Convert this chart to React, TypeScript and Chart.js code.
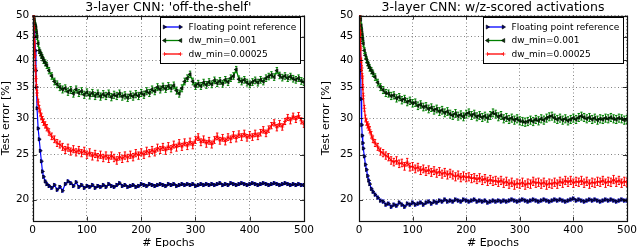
import React, { useEffect, useRef } from "react";
import { Chart, registerables } from "chart.js";

Chart.register(...registerables);

// ---- data ----
const EPOCHS = [
  1, 2, 3, 4, 5, 6, 7, 8, 10, 12, 14, 16, 18, 20, 23, 26, 30,
  35, 40, 45, 50, 55, 60, 65, 70, 75, 80,
  85, 90, 95, 100, 105, 110, 115, 120, 125, 130,
  135, 140, 145, 150, 155, 160, 165, 170, 175, 180,
  185, 190, 195, 200, 205, 210, 215, 220, 225, 230,
  235, 240, 245, 250, 255, 260, 265, 270, 275, 280,
  285, 290, 295, 300, 305, 310, 315, 320, 325, 330,
  335, 340, 345, 350, 355, 360, 365, 370, 375, 380,
  385, 390, 395, 400, 405, 410, 415, 420, 425, 430,
  435, 440, 445, 450, 455, 460, 465, 470, 475, 480,
  485, 490, 495, 500,
];

const LEFT_FLOAT = [
  50, 48, 46.5, 45, 42, 38, 35, 31.5, 28.5, 27, 25.5, 24.2, 23, 22.4, 21.9, 21.6, 21.4,
  21.2, 21.5, 21.0, 21.3, 20.9, 21.6, 21.9, 21.7, 21.4, 21.8,
  21.3, 21.5, 21.2, 21.4, 21.3, 21.5, 21.2, 21.4, 21.3, 21.5,
  21.3, 21.6, 21.4, 21.3, 21.5, 21.7, 21.4, 21.5, 21.3, 21.4,
  21.5, 21.3, 21.4, 21.6, 21.5, 21.4, 21.6, 21.5, 21.4, 21.5,
  21.6, 21.5, 21.4, 21.6, 21.5, 21.6, 21.4, 21.5, 21.6, 21.5,
  21.6, 21.5, 21.6, 21.4, 21.5, 21.6, 21.5, 21.6, 21.5, 21.6,
  21.5, 21.6, 21.7, 21.5, 21.6, 21.5, 21.7, 21.6, 21.5, 21.6,
  21.7, 21.6, 21.5, 21.6, 21.7, 21.6, 21.5, 21.6, 21.7, 21.6,
  21.5, 21.6, 21.7, 21.6, 21.5, 21.6, 21.7, 21.6, 21.5, 21.6,
  21.5, 21.6, 21.5, 21.5,
];
const LEFT_DW1 = [
  50, 50, 49, 48, 47.5, 47, 46, 45, 43.5, 42, 41.5, 41, 40.5, 40, 39.5, 39, 38,
  37, 36, 35.5, 35, 34.6, 34.8, 34.2, 34.5, 33.9, 34.6,
  34.0, 34.3, 33.7, 34.1, 33.6, 34.0, 33.5, 33.9, 33.4, 33.8,
  33.5, 33.9, 33.3, 33.7, 33.5, 33.9, 33.4, 33.6, 33.2, 33.7,
  33.4, 33.8, 33.5, 34.0, 33.7, 34.3, 34.0, 34.6, 34.3, 35.0,
  34.6, 35.1, 34.7, 35.2, 34.8, 35.3, 34.4, 33.9, 34.8, 36.0,
  36.6, 37.3, 36.0, 35.2, 35.6, 35.2, 35.8, 35.4, 35.9, 35.5,
  36.2, 35.7, 36.1, 35.6, 36.3, 35.9, 36.6, 37.0, 38.2, 36.4,
  36.0, 36.3, 35.8, 35.5, 35.9, 36.2, 35.8, 36.3, 36.0, 36.6,
  36.9, 37.2, 36.8, 38.0, 37.1, 36.7, 37.0, 36.6, 36.9, 36.5,
  36.3, 36.6, 36.1, 35.9,
];
const LEFT_DW2 = [
  50, 47, 44, 41, 38.5, 36.5, 35, 34, 32.5, 31.5, 30.8, 30.2, 29.8, 29.4, 29, 28.6, 28,
  27.4, 27, 26.5, 26.3, 26.0, 25.6, 25.9, 25.4, 25.7, 25.3,
  25.6, 25.2, 25.5, 25.0, 25.3, 24.8, 25.1, 24.7, 25.0, 24.6,
  24.9, 24.5, 24.9, 24.6, 24.3, 24.8, 24.5, 24.9, 24.6, 25.0,
  24.7, 25.2, 24.9, 25.3, 25.0, 25.5, 25.2, 25.6, 25.3, 25.9,
  25.6, 26.0, 25.5, 26.1, 25.7, 26.3, 25.9, 26.5, 26.0, 26.6,
  26.1, 26.7, 26.2, 26.9, 27.3, 26.6, 27.0, 26.4, 26.8, 26.3,
  26.9, 27.4, 26.8, 27.2, 26.7, 27.3, 27.0, 27.6, 27.1, 27.7,
  27.3, 27.8, 27.2, 27.6, 27.3, 27.8, 27.4, 27.9, 28.3, 27.8,
  28.4, 28.9, 29.3, 28.6, 29.2, 28.7, 29.5, 30.1, 29.6, 30.3,
  29.8, 30.4, 29.6, 29.1,
];

const RIGHT_FLOAT = [
  50, 44, 38, 33, 29, 27.5, 26.5, 25.8, 24.8, 23.8, 23.2, 22.5, 22.0, 21.6, 21.1, 20.8, 20.5,
  20.2, 19.9, 19.8, 19.5, 19.6, 19.3, 19.5, 19.4, 19.7, 19.5,
  19.3, 19.6, 19.5, 19.7, 19.5, 19.6, 19.7, 19.5, 19.7, 19.8,
  19.6, 19.8, 19.7, 19.9, 19.8, 20.0, 19.8, 19.9, 19.8, 20.0,
  19.9, 19.8, 20.0, 19.9, 19.8, 19.9, 20.0, 19.8, 19.9, 19.8,
  19.9, 19.7, 19.8, 19.9, 19.8, 19.9, 19.8, 19.9, 19.8, 19.9,
  20.0, 19.9, 19.8, 19.9, 20.0, 19.9, 19.8, 19.9, 20.0, 19.9,
  19.8, 19.9, 20.0, 19.9, 19.8, 19.9, 20.0, 19.9, 20.0, 19.9,
  19.8, 19.9, 20.0, 20.1, 19.9, 20.0, 19.9, 19.8, 19.9, 20.0,
  19.9, 20.0, 19.9, 19.8, 19.9, 20.0, 19.9, 20.0, 19.9, 19.8,
  19.9, 20.0, 19.9, 19.9,
];
const RIGHT_DW1 = [
  50, 50, 49, 47.5, 46.5, 45.5, 44.5, 43.5, 42, 41, 40.2, 39.5, 39, 38.5, 38, 37.5, 36.8,
  35.8, 35.0, 34.5, 34.0, 33.9, 33.5, 33.6, 33.1, 33.3, 32.8,
  33.0, 32.5, 32.7, 32.3, 32.4, 31.9, 32.1, 31.7, 31.8, 31.4,
  31.6, 31.2, 31.4, 31.0, 31.2, 30.8, 31.0, 30.6, 30.4, 30.7,
  30.3, 30.5, 30.2, 30.6, 30.8, 30.4, 30.6, 30.2, 30.4, 30.1,
  30.3, 30.0, 30.4, 30.8, 30.6, 30.2, 30.4, 29.9, 30.1, 29.8,
  30.0, 29.7, 29.9, 29.6, 29.5, 29.4, 29.5, 29.7, 29.5, 29.8,
  29.6, 29.9, 29.7, 30.0, 30.2, 30.3, 30.0, 29.8, 30.0, 29.7,
  29.9, 29.6, 29.8, 30.0, 29.8, 30.1, 30.3, 30.1, 29.9, 30.1,
  29.8, 30.0, 29.7, 29.9, 29.8, 30.0, 29.9, 30.1, 29.9, 29.8,
  30.0, 29.9, 29.7, 29.8,
];
const RIGHT_DW2 = [
  50, 46, 42.5, 40, 38.5, 37, 35, 33.5, 31.5, 30, 29.4, 29, 28.7, 28.3, 27.6, 27.0, 26.5,
  26.0, 25.4, 25.2, 24.9, 24.7, 24.3, 24.1, 24.3, 23.9, 24.0,
  23.6, 24.1, 23.5, 23.6, 23.3, 23.5, 23.1, 23.3, 23.0, 23.2,
  22.9, 23.1, 22.8, 23.0, 22.7, 22.9, 22.6, 22.8, 22.6, 22.4,
  22.6, 22.3, 22.5, 22.3, 22.4, 22.2, 22.3, 22.1, 22.3, 22.0,
  22.2, 21.9, 22.1, 21.9, 22.0, 21.8, 22.0, 21.7, 21.9, 21.6,
  21.8, 21.5, 21.7, 21.6, 21.8, 21.5, 21.7, 21.6, 21.9, 21.7,
  21.8, 21.6, 21.8, 21.5, 21.7, 21.6, 21.8, 21.6, 21.9, 21.7,
  22.0, 21.8, 22.0, 21.7, 21.9, 21.8, 22.0, 21.7, 21.9, 21.6,
  21.8, 21.7, 21.9, 21.8, 22.0, 21.7, 21.9, 21.8, 22.1, 21.8,
  22.0, 21.7, 21.9, 21.8,
];

const SERIES_LABELS = ["Floating point reference", "dw_min=0.001", "dw_min=0.00025"];
const ERRS = [0.15, 0.6, 0.45];
const Y_TICKS = [20, 25, 30, 35, 40, 45, 50];
const X_TICKS = [0, 100, 200, 300, 400, 500];
const TITLES = ["3-layer CNN: 'off-the-shelf'", "3-layer CNN: w/z-scored activations"];
const Y_TITLE = "Test error [%]";
const X_TITLE = "# Epochs";

// ---- styles ----
const FONT = "DejaVu Sans";
const COLORS = ["#0000ff", "#008000", "#ff0000"];
const MARK_FILL = ["#000080", "#004000", "#ff0000"];
const MARK_EDGE = ["#000000", "#000000", "#ff0000"];
const MARK_STYLE = ["triangle", "triangle", "cross"];
const MARK_ROT = [90, -90, 0];

function drawMarker(ctx: CanvasRenderingContext2D, i: number, x: number, y: number, r: number) {
  ctx.save();
  ctx.fillStyle = MARK_FILL[i];
  ctx.strokeStyle = MARK_EDGE[i];
  ctx.lineWidth = 0.7;
  ctx.beginPath();
  if (i === 0) {
    ctx.moveTo(x + r, y);
    ctx.lineTo(x - r * 0.6, y - r);
    ctx.lineTo(x - r * 0.6, y + r);
    ctx.closePath();
    ctx.fill();
    ctx.stroke();
  } else if (i === 1) {
    ctx.moveTo(x - r, y);
    ctx.lineTo(x + r * 0.6, y - r);
    ctx.lineTo(x + r * 0.6, y + r);
    ctx.closePath();
    ctx.fill();
    ctx.stroke();
  } else {
    ctx.moveTo(x - r, y);
    ctx.lineTo(x + r, y);
    ctx.moveTo(x, y - r);
    ctx.lineTo(x, y + r);
    ctx.stroke();
  }
  ctx.restore();
}

const decorPlugin = {
  id: "decor",
  beforeDatasetDraw(chart: any, args: any) {
    const ds = chart.data.datasets[args.index];
    const err = ds.err;
    if (!err) return;
    const ys = chart.scales.y;
    const { ctx, chartArea: a } = chart;
    ctx.save();
    ctx.beginPath();
    ctx.rect(a.left, a.top, a.right - a.left, a.bottom - a.top);
    ctx.clip();
    ctx.strokeStyle = ds.borderColor;
    ctx.lineWidth = 1;
    ctx.beginPath();
    args.meta.data.forEach((el: any, j: number) => {
      const v = ds.data[j].y;
      const y1 = ys.getPixelForValue(v + err);
      const y2 = ys.getPixelForValue(v - err);
      ctx.moveTo(el.x, y1);
      ctx.lineTo(el.x, y2);
      ctx.moveTo(el.x - 1.2, y1);
      ctx.lineTo(el.x + 1.2, y1);
      ctx.moveTo(el.x - 1.2, y2);
      ctx.lineTo(el.x + 1.2, y2);
    });
    ctx.stroke();
    ctx.restore();
  },
  afterDraw(chart: any) {
    const { ctx, chartArea: a } = chart;
    const xs = chart.scales.x;
    const ys = chart.scales.y;
    ctx.save();
    // inner ticks
    ctx.strokeStyle = "#000";
    ctx.lineWidth = 0.8;
    ctx.beginPath();
    X_TICKS.forEach((t) => {
      const px = Math.round(xs.getPixelForValue(t)) + 0.5;
      ctx.moveTo(px, a.bottom);
      ctx.lineTo(px, a.bottom - 4);
      ctx.moveTo(px, a.top);
      ctx.lineTo(px, a.top + 4);
    });
    Y_TICKS.forEach((t) => {
      const py = Math.round(ys.getPixelForValue(t)) + 0.5;
      ctx.moveTo(a.left, py);
      ctx.lineTo(a.left + 4, py);
      ctx.moveTo(a.right, py);
      ctx.lineTo(a.right - 4, py);
    });
    ctx.stroke();
    // frame
    ctx.lineWidth = 1.2;
    ctx.strokeStyle = "#111";
    ctx.strokeRect(Math.round(a.left) + 0.5, Math.round(a.top) + 0.5, Math.round(a.right - a.left), Math.round(a.bottom - a.top));
    // legend
    const w = 140;
    const h = 46;
    const x0 = Math.round(a.right - 4 - w) + 0.5;
    const y0 = Math.round(a.top + 1) + 0.5;
    ctx.fillStyle = "#fff";
    ctx.fillRect(x0, y0, w, h);
    ctx.strokeStyle = "#000";
    ctx.lineWidth = 1;
    ctx.strokeRect(x0, y0, w, h);
    ctx.font = `9px "${FONT}"`;
    ctx.textBaseline = "middle";
    ctx.textAlign = "left";
    chart.data.datasets.forEach((ds: any, i: number) => {
      const cy = y0 + 9.5 + i * 13.5;
      ctx.strokeStyle = ds.borderColor;
      ctx.lineWidth = 1.3;
      ctx.beginPath();
      ctx.moveTo(x0 + 4, cy);
      ctx.lineTo(x0 + 20, cy);
      ctx.stroke();
      drawMarker(ctx, i, x0 + 4, cy, 2);
      drawMarker(ctx, i, x0 + 20, cy, 2);
      ctx.fillStyle = "#000";
      ctx.fillText(ds.label, x0 + 28, cy + 0.5);
    });
    ctx.restore();
  },
};

type PanelProps = {
  title: string;
  values: number[][];
  left: number;
  axisW: number;
  padRight: number;
  tickPad: number;
};

function Panel({ title, values, left, axisW, padRight, tickPad }: PanelProps) {
  const ref = useRef<HTMLCanvasElement>(null);
  useEffect(() => {
    const canvas = ref.current;
    if (!canvas) return;
    const datasets = values.map((vals, i) => ({
      label: SERIES_LABELS[i],
      data: EPOCHS.map((e, j) => ({ x: e, y: vals[j] })),
      err: ERRS[i],
      borderColor: COLORS[i],
      backgroundColor: COLORS[i],
      borderWidth: 1.2,
      pointStyle: MARK_STYLE[i],
      rotation: MARK_ROT[i],
      pointRadius: 2,
      pointBackgroundColor: MARK_FILL[i],
      pointBorderColor: MARK_EDGE[i],
      pointBorderWidth: 0.7,
      tension: 0,
      fill: false,
      order: 3 - i,
    }));
    const chart = new Chart(canvas, {
      type: "line",
      data: { datasets } as any,
      plugins: [decorPlugin as any],
      options: {
        animation: false,
        responsive: false,
        devicePixelRatio: 1,
        layout: { padding: { left: 0, right: padRight, top: 0, bottom: 0 } },
        plugins: {
          legend: { display: false },
          tooltip: { enabled: false },
          title: {
            display: true,
            text: title,
            color: "#000",
            fullSize: false,
            font: { family: FONT, size: 12.5, weight: "normal" },
            padding: { top: 0, bottom: 0.5 },
          },
        },
        scales: {
          x: {
            type: "linear",
            min: 0,
            max: 500,
            afterBuildTicks: (s: any) => {
              s.ticks = X_TICKS.map((v) => ({ value: v }));
            },
            afterFit: (s: any) => {
              s.height = 252 - 220.7;
            },
            ticks: {
              color: "#000",
              font: { family: FONT, size: 10.5 },
              padding: 3,
              maxRotation: 0,
              callback: (v: any) => String(v),
            },
            grid: { color: "rgba(0,0,0,0.7)", lineWidth: 0.7, drawTicks: false },
            border: { display: false, dash: [1, 2.5] },
            title: {
              display: true,
              text: X_TITLE,
              color: "#000",
              font: { family: FONT, size: 11 },
              padding: { top: 0, bottom: 2.4 },
            },
          },
          y: {
            type: "logarithmic",
            min: 18,
            max: 50,
            afterBuildTicks: (s: any) => {
              s.ticks = Y_TICKS.map((v) => ({ value: v }));
            },
            afterFit: (s: any) => {
              s.width = axisW;
            },
            ticks: {
              color: "#000",
              font: { family: FONT, size: 10.5 },
              padding: tickPad,
              callback: (v: any) => String(v),
            },
            grid: { color: "rgba(0,0,0,0.7)", lineWidth: 0.7, drawTicks: false },
            border: { display: false, dash: [1, 2.5] },
            title: {
              display: true,
              text: Y_TITLE,
              color: "#000",
              font: { family: FONT, size: 11 },
              padding: { top: 0, bottom: 0 },
            },
          },
        },
      } as any,
    });
    return () => chart.destroy();
  }, []);
  return (
    <canvas
      ref={ref}
      width={320}
      height={252}
      style={{ position: "absolute", left, top: 0, width: 320, height: 252 }}
    />
  );
}

export default function App() {
  return (
    <div
      style={{
        position: "fixed",
        left: 0,
        top: 0,
        width: 640,
        height: 247,
        overflow: "hidden",
        background: "#fff",
      }}
    >
      <Panel title={TITLES[0]} values={[LEFT_FLOAT, LEFT_DW1, LEFT_DW2]} left={0} axisW={32.7} padRight={16} tickPad={3.4} />
      <Panel title={TITLES[1]} values={[RIGHT_FLOAT, RIGHT_DW1, RIGHT_DW2]} left={320} axisW={39} padRight={9.3} tickPad={5.7} />
    </div>
  );
}
